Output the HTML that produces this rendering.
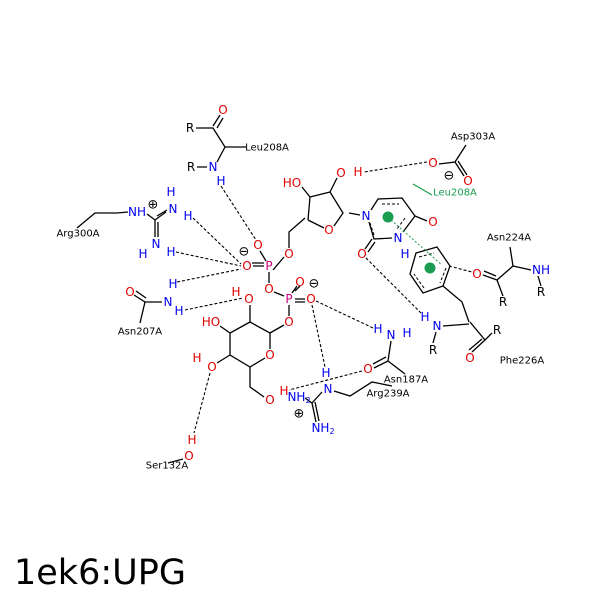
<!DOCTYPE html>
<html><head><style>body{margin:0;background:#fff}svg{display:block}</style></head><body>
<svg width="600" height="600" viewBox="0 0 600 600" xmlns="http://www.w3.org/2000/svg" font-family="DejaVu Sans, Liberation Sans, sans-serif">
<rect width="600" height="600" fill="#fff"/>
<g stroke="#000" stroke-width="1.3" fill="none">
<!-- Leu208A top -->
<path d="M196 128 H213 L225 147 H246 M225 147 L217 162 M197 167 H207 M213 126 L220 115 M217 128 L223 118"/>
<!-- Arg300A -->
<path d="M77 228 L95 213 L117 213 L128 212 M147 214 L155 220 L166 212 M155 220 L155 237 M158 222 L158 237 M157 216 L167 210"/>
<!-- Asn207A -->
<path d="M134 295 L145 302 L162 302 M136 291 L146 298 M145 302 L140 323"/>
<!-- phosphates -->
<path d="M253 266 L264 266 M266 261 L260 251 M273 270 L284 257 M269 272 L269 283 M274 292 L284 296 M289 305 L289 316 M292 293 L297 286 M295 291 L300 286 M295 299 L305 299 M295 302 L305 302 M289 248 L289 232 L305 218 M252 263 L264 263"/>
<!-- ribose -->
<path d="M308 220 L310 197 L330 192 L343 213 L334 226 M324 228 L308 220 M310 197 L302 187 M330 192 L337 178"/>
<!-- uracil -->
<path d="M349 213 L360 215 M371 210 L378 199 L402 198 L415 216 L403 232 M392 238 L374 239 L369 222 M415 216 L427 221 M372 239 L365 249 M375 242 L368 252"/>
<!-- Asp303A -->
<path d="M439 164 L455 162 L466 145 M455 162 L464 176 M458 161 L467 175"/>
<!-- Phe ring & chain -->
<path d="M416 253 L437 247 L450 266 L443 286 L423 293 L410 274 Z M443 286 L462 302 L469 322 M469 324 L443 326 M436 332 L433 343 M470 322 L485 340 L492 333 M485 340 L472 352 M482 339 L469 350"/>
<!-- Asn224A -->
<path d="M483 275 L497 280 L513 266 L510 247 M497 280 L503 296 M513 266 L531 270 M538 276 L541 286 M484 271 L496 276"/>
<!-- sugar -->
<path d="M250 322 L270 333 L270 349 M265 358 L250 367 L230 355 L230 333 L250 322 M250 322 L250 305 M270 333 L284 325 M230 333 L220 326 M230 355 L217 363 M250 367 L250 387 L264 397"/>
<!-- Asn187A -->
<path d="M374 368 L388 361 L391 341 M373 364 L386 357 M388 361 L405 374"/>
<!-- Arg239A -->
<path d="M334 391 L350 396 L372 382 L392 386 M322 392 L312 403 L305 398 M312 403 L316 422 M315 402 L319 421"/>
<!-- Ser132A -->
<path d="M183 459 L168 463"/>
</g>
<g stroke="#000" stroke-width="1.1" stroke-dasharray="3,2" fill="none">
<path d="M221 186 L256 240 M193 218 L241 264 M176 252 L241 266 M177 282 L241 269 M185 310 L243 298 M316 301 L373 328 M312 305 L325 367 M366 258 L421 313 M427 162 L364 172 M362 371 L289 390 M210 373 L194 433 M449 266 L472 272"/>
</g>
<g stroke="#000" stroke-width="1" fill="none" stroke-dasharray="3,2">
<path d="M382 204 L399 204 M405 218 L397 229 M419 257 L434 253 M446 268 L440 283 M424 288 L414 274 M374 235 L370 223"/>
</g>
<path d="M413 184 L432 195" stroke="#1a9d50" stroke-width="1.2"/>
<path d="M391 220 L442 265" stroke="#1a9d50" stroke-width="1" stroke-dasharray="2,2"/>
<circle cx="388" cy="217" r="5.5" fill="#1a9d50"/>
<circle cx="430" cy="268" r="5.5" fill="#1a9d50"/>
<g font-size="12" text-anchor="middle" dominant-baseline="central">
<g fill="#000" font-size="10">
<text x="190" y="128" font-size="12">R</text><text x="191" y="167" font-size="12">R</text><text x="267" y="148">Leu208A</text>
<text x="78" y="234">Arg300A</text><text x="140" y="332">Asn207A</text>
<text x="473" y="137">Asp303A</text><text x="509" y="238">Asn224A</text>
<text x="503" y="302" font-size="12">R</text><text x="541" y="292" font-size="12">R</text><text x="433" y="350" font-size="12">R</text><text x="497" y="330" font-size="12">R</text>
<text x="522" y="361">Phe226A</text><text x="406" y="380">Asn187A</text><text x="388" y="394">Arg239A</text>
<text x="167" y="466">Ser132A</text>
<text x="153" y="205" font-size="13">⊕</text><text x="244" y="252" font-size="13">⊖</text><text x="314" y="284" font-size="13">⊖</text>
<text x="449" y="176" font-size="13">⊖</text><text x="299" y="414" font-size="13">⊕</text>
</g>
<g fill="#e00000">
<text x="223" y="110">O</text><text x="258" y="245">O</text><text x="247" y="266">O</text><text x="289" y="254">O</text>
<text x="269" y="289">O</text><text x="300" y="282">O</text><text x="311" y="299">O</text><text x="289" y="322">O</text>
<text x="130" y="292">O</text><text x="249" y="299">O</text><text x="236" y="292">H</text><text x="211" y="322">HO</text>
<text x="270" y="355">O</text><text x="212" y="367">O</text><text x="197" y="358">H</text><text x="270" y="400">O</text><text x="284" y="391">H</text>
<text x="189" y="456">O</text><text x="192" y="440">H</text>
<text x="292" y="183">HO</text><text x="341" y="173">O</text><text x="358" y="172">H</text><text x="329" y="230">O</text>
<text x="433" y="222">O</text><text x="362" y="254">O</text><text x="433" y="163">O</text><text x="468" y="181">O</text>
<text x="477" y="274">O</text><text x="470" y="358">O</text><text x="368" y="369">O</text>
</g>
<g fill="#d0007f"><text x="269" y="266">P</text><text x="289" y="299">P</text></g>
<g fill="#0000ee">
<text x="213" y="167">N</text><text x="221" y="181">H</text>
<text x="137" y="212">NH</text><text x="173" y="209">N</text><text x="171" y="192">H</text><text x="188" y="216">H</text>
<text x="156" y="244">N</text><text x="143" y="254">H</text><text x="171" y="252">H</text>
<text x="168" y="302">N</text><text x="173" y="284">H</text><text x="179" y="311">H</text>
<text x="366" y="216">N</text><text x="398" y="238">N</text><text x="405" y="254">H</text>
<text x="541" y="270">NH</text><text x="437" y="326">N</text><text x="425" y="317">H</text>
<text x="391" y="335">N</text><text x="378" y="329">H</text><text x="407" y="333">H</text>
<text x="328" y="389">N</text><text x="326" y="373">H</text>
<text x="299" y="397">NH<tspan font-size="8" dy="3">2</tspan></text>
<text x="323" y="428">NH<tspan font-size="8" dy="3">2</tspan></text>
</g>
<text x="455" y="193" fill="#1a9d50" font-size="10">Leu208A</text>
</g>
<text x="14" y="584" font-size="35" font-family="DejaVu Sans, Liberation Sans, sans-serif" fill="#000">1ek6:UPG</text>
</svg>
</body></html>
